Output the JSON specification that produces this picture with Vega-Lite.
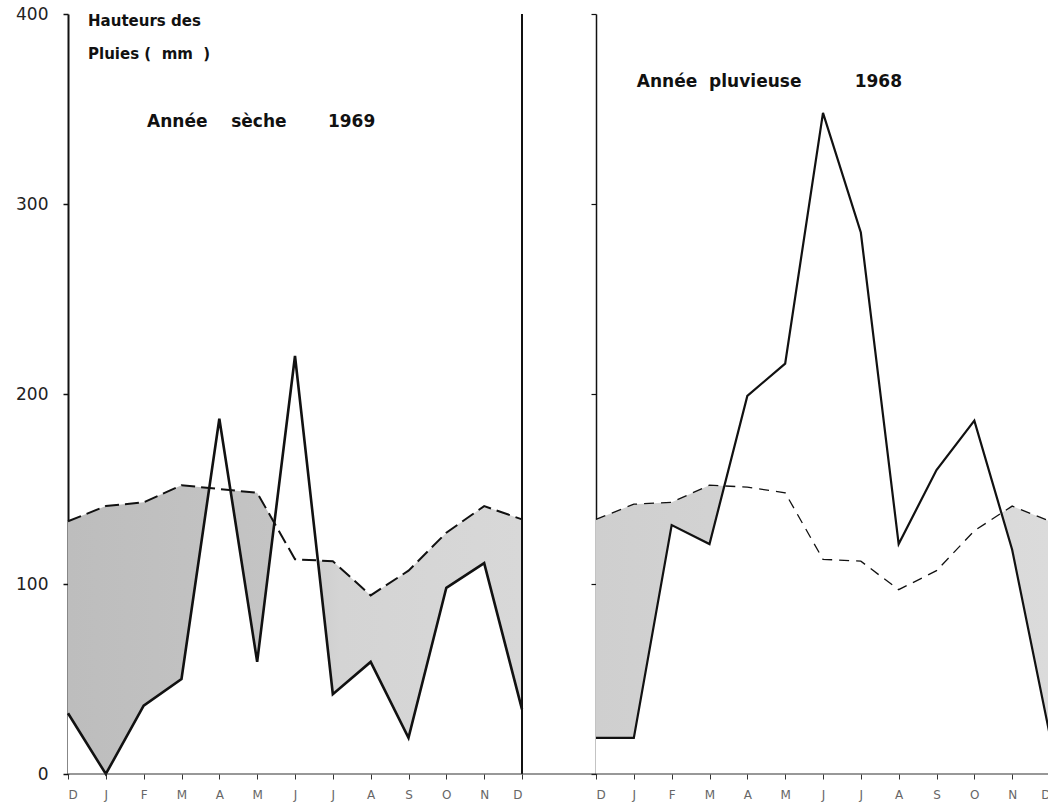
{
  "$schema": "https://vega.github.io/schema/vega-lite/v6.json",
  "width": 980,
  "height": 760,
  "autosize": {"type": "none"},
  "padding": {"left": 68, "top": 14, "right": 0, "bottom": 38},
  "background": "white",
  "config": {
    "view": {"stroke": null},
    "axis": {"grid": false, "zindex": 1},
    "font": "DejaVu Sans"
  },
  "datasets": {
    "sec1969": [
      {"m": 0, "mois": "D", "pluie": 32, "normale": 133},
      {"m": 1, "mois": "J", "pluie": 0, "normale": 141},
      {"m": 2, "mois": "F", "pluie": 36, "normale": 143},
      {"m": 3, "mois": "M", "pluie": 50, "normale": 152},
      {"m": 4, "mois": "A", "pluie": 187, "normale": 150},
      {"m": 5, "mois": "M", "pluie": 59, "normale": 148},
      {"m": 6, "mois": "J", "pluie": 220, "normale": 113},
      {"m": 7, "mois": "J", "pluie": 42, "normale": 112},
      {"m": 8, "mois": "A", "pluie": 59, "normale": 94},
      {"m": 9, "mois": "S", "pluie": 19, "normale": 107},
      {"m": 10, "mois": "O", "pluie": 98, "normale": 127},
      {"m": 11, "mois": "N", "pluie": 111, "normale": 141},
      {"m": 12, "mois": "D", "pluie": 34, "normale": 134}
    ],
    "pluv1968": [
      {"m": 0, "mois": "D", "pluie": 19, "normale": 134},
      {"m": 1, "mois": "J", "pluie": 19, "normale": 142},
      {"m": 2, "mois": "F", "pluie": 131, "normale": 143},
      {"m": 3, "mois": "M", "pluie": 121, "normale": 152},
      {"m": 4, "mois": "A", "pluie": 199, "normale": 151},
      {"m": 5, "mois": "M", "pluie": 216, "normale": 148},
      {"m": 6, "mois": "J", "pluie": 348, "normale": 113},
      {"m": 7, "mois": "J", "pluie": 285, "normale": 112},
      {"m": 8, "mois": "A", "pluie": 121, "normale": 97},
      {"m": 9, "mois": "S", "pluie": 160, "normale": 107},
      {"m": 10, "mois": "O", "pluie": 186, "normale": 128},
      {"m": 11, "mois": "N", "pluie": 118, "normale": 141},
      {"m": 12, "mois": "D", "pluie": 20, "normale": 133}
    ]
  },
  "layer": [
    {
      "data": {"name": "sec1969"},
      "encoding": {
        "x": {
          "field": "m", "type": "quantitative",
          "scale": {"domain": [0, 12], "range": [0, 454], "nice": false, "zero": false},
          "axis": {
            "values": [0,1,2,3,4,5,6,7,8,9,10,11,12],
            "labelExpr": "['D','J','F','M','A','M','J','J','A','S','O','N','D'][datum.value]",
            "title": null, "domain": false, "orient": "bottom",
            "tickColor": "#333", "tickSize": 5, "tickWidth": 1,
            "labelFontSize": 12, "labelColor": "#666", "labelPadding": 10,
            "labelFont": "DejaVu Sans", "labelAngle": 0, "labelOverlap": false
          }
        }
      },
      "layer": [
        {
          "mark": {"type": "area", "color": {"gradient": "linear", "x1": 0, "x2": 1, "y1": 0, "y2": 0,
            "stops": [{"offset": 0, "color": "#bdbdbd"}, {"offset": 0.45, "color": "#c4c4c4"}, {"offset": 0.6, "color": "#d4d4d4"}, {"offset": 1, "color": "#d8d8d8"}]}},
          "encoding": {
            "y": {"field": "normale", "type": "quantitative", "scale": {"domain": [0, 400], "nice": false},
              "axis": {"values": [0,100,200,300,400], "title": null, "domainColor": "#111", "domainWidth": 2,
                "tickColor": "#111", "tickSize": 5, "tickWidth": 1.5, "labelFontSize": 17, "labelColor": "#222",
                "labelPadding": 15, "labelFont": "DejaVu Sans"}}
          }
        },
        {
          "mark": {"type": "area", "color": "white", "opacity": 1},
          "encoding": {"y": {"field": "pluie", "type": "quantitative", "title": null}}
        },
        {
          "mark": {"type": "line", "color": "#111", "strokeWidth": 2, "strokeDash": [14, 6]},
          "encoding": {"y": {"field": "normale", "type": "quantitative", "title": null}}
        },
        {
          "mark": {"type": "line", "color": "#111", "strokeWidth": 2.6, "strokeJoin": "miter"},
          "encoding": {"y": {"field": "pluie", "type": "quantitative", "title": null}}
        },
        {
          "transform": [{"filter": {"field": "m", "equal": 12}}],
          "mark": {"type": "rule", "color": "#111", "strokeWidth": 2},
          "encoding": {"y": {"datum": 0}, "y2": {"datum": 400}}
        },
        {
          "transform": [{"filter": {"field": "m", "equal": 0}}],
          "mark": {"type": "text", "text": ["Hauteurs des", "Pluies\u00a0(\u00a0\u00a0mm\u00a0\u00a0)"], "lineHeight": 33, "align": "left", "baseline": "top",
            "font": "DejaVu Sans", "fontWeight": "bold", "fontSize": 15, "fill": "#111"},
          "encoding": {"x": {"datum": 0.53}, "y": {"datum": 400}}
        },
        {
          "transform": [{"filter": {"field": "m", "equal": 0}}],
          "mark": {"type": "text", "text": "Année\u00a0\u00a0\u00a0\u00a0sèche\u00a0\u00a0\u00a0\u00a0\u00a0\u00a0\u00a01969", "align": "left", "baseline": "middle",
            "font": "DejaVu Sans", "fontWeight": "bold", "fontSize": 17, "fill": "#111"},
          "encoding": {"x": {"datum": 2.09}, "y": {"datum": 343}}
        }
      ]
    },
    {
      "data": {"name": "pluv1968"},
      "encoding": {
        "x": {
          "field": "m", "type": "quantitative",
          "scale": {"domain": [0, 12], "range": [528, 982], "nice": false, "zero": false},
          "axis": {
            "values": [0,1,2,3,4,5,6,7,8,9,10,11,12],
            "labelExpr": "['D','J','F','M','A','M','J','J','A','S','O','N','D'][datum.value]",
            "title": null, "domain": false, "orient": "bottom",
            "tickColor": "#333", "tickSize": 5, "tickWidth": 1,
            "labelFontSize": 12, "labelColor": "#666", "labelPadding": 10,
            "labelFont": "DejaVu Sans", "labelAngle": 0, "labelOverlap": false
          }
        }
      },
      "layer": [
        {
          "mark": {"type": "area", "color": {"gradient": "linear", "x1": 0, "x2": 1, "y1": 0, "y2": 0,
            "stops": [{"offset": 0, "color": "#cfcfcf"}, {"offset": 1, "color": "#dbdbdb"}]}},
          "encoding": {
            "y": {"field": "normale", "type": "quantitative", "scale": {"domain": [0, 400], "nice": false},
              "axis": {"orient": "left", "offset": -528, "values": [0,100,200,300,400], "labels": false, "title": null,
                "domainColor": "#111", "domainWidth": 1.5, "tickColor": "#111", "tickSize": 5, "tickWidth": 1.2}}
          }
        },
        {
          "mark": {"type": "area", "color": "white", "opacity": 1},
          "encoding": {"y": {"field": "pluie", "type": "quantitative", "title": null}}
        },
        {
          "mark": {"type": "line", "color": "#111", "strokeWidth": 1.3, "strokeDash": [10, 7]},
          "encoding": {"y": {"field": "normale", "type": "quantitative", "title": null}}
        },
        {
          "mark": {"type": "line", "color": "#111", "strokeWidth": 2.2, "strokeJoin": "miter"},
          "encoding": {"y": {"field": "pluie", "type": "quantitative", "title": null}}
        },
        {
          "transform": [{"filter": {"field": "m", "equal": 0}}],
          "mark": {"type": "rule", "color": "#333", "strokeWidth": 1.2},
          "encoding": {"x": null, "y": {"datum": 0}}
        },
        {
          "transform": [{"filter": {"field": "m", "equal": 0}}],
          "mark": {"type": "text", "text": "Année\u00a0\u00a0pluvieuse\u00a0\u00a0\u00a0\u00a0\u00a0\u00a0\u00a0\u00a0\u00a01968", "align": "left", "baseline": "middle",
            "font": "DejaVu Sans", "fontWeight": "bold", "fontSize": 17, "fill": "#111"},
          "encoding": {"x": {"datum": 1.08}, "y": {"datum": 364}}
        }
      ]
    }
  ],
  "resolve": {"scale": {"x": "independent"}, "axis": {"x": "independent", "y": "independent"}}
}
